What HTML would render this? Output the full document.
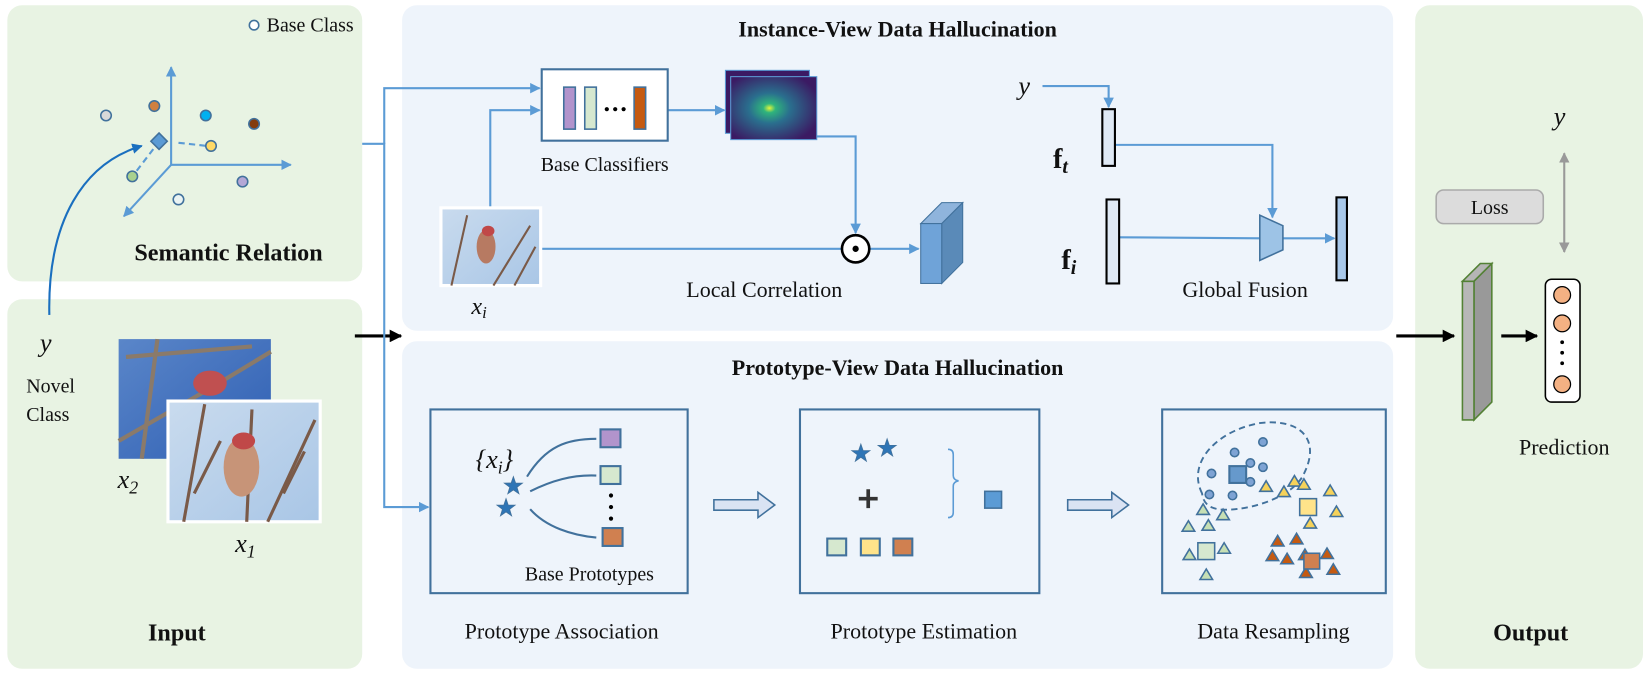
<!DOCTYPE html>
<html><head><meta charset="utf-8">
<style>html,body{margin:0;padding:0;background:#fff}svg{display:block}
text{font-family:"Liberation Serif",serif;fill:#111}</style></head>
<body>
<svg width="1643" height="674" viewBox="0 0 1565 642" preserveAspectRatio="none" xmlns="http://www.w3.org/2000/svg">
<defs>
<marker id="a" viewBox="0 0 10 10" refX="9" refY="5" markerWidth="5" markerHeight="5" orient="auto"><path d="M0,0L10,5L0,10z" fill="#5b9bd5"/></marker>
<marker id="k" viewBox="0 0 10 10" refX="9" refY="5" markerWidth="4" markerHeight="4" orient="auto"><path d="M0,0L10,5L0,10z" fill="#000"/></marker>
<marker id="g" viewBox="0 0 10 10" refX="9" refY="5" markerWidth="5" markerHeight="5" orient="auto-start-reverse"><path d="M0,0L10,5L0,10z" fill="#999"/></marker>
<marker id="d" viewBox="0 0 10 10" refX="9" refY="5" markerWidth="5" markerHeight="5" orient="auto"><path d="M0,0L10,5L0,10z" fill="#1a6fbf"/></marker>
<radialGradient id="hm" cx="0.45" cy="0.5" r="0.6"><stop offset="0" stop-color="#e4f53a"/><stop offset="0.12" stop-color="#2fb47c"/><stop offset="0.4" stop-color="#2a6f8e"/><stop offset="1" stop-color="#3b1a63"/></radialGradient>
<linearGradient id="sky" x1="0" y1="0" x2="1" y2="1"><stop offset="0" stop-color="#c9dbee"/><stop offset="1" stop-color="#a9c6e6"/></linearGradient>
<linearGradient id="sky2" x1="0" y1="0" x2="1" y2="1"><stop offset="0" stop-color="#5a86c9"/><stop offset="1" stop-color="#2f5fb3"/></linearGradient>
<polygon id="st" points="0,-9 2.1,-2.9 8.6,-2.8 3.4,1.1 5.3,7.3 0,3.6 -5.3,7.3 -3.4,1.1 -8.6,-2.8 -2.1,-2.9" fill="#2e75b6" stroke="#41719c" stroke-width="0.8"/>
</defs>
<!-- panels -->
<rect x="7" y="5" width="338" height="263" rx="14" fill="#e8f3e3"/>
<rect x="7" y="285" width="338" height="352" rx="14" fill="#e8f3e3"/>
<rect x="383" y="5" width="944" height="310" rx="14" fill="#eef4fb"/>
<rect x="383" y="325" width="944" height="312" rx="14" fill="#eef4fb"/>
<rect x="1348" y="5" width="217" height="632" rx="14" fill="#e8f3e3"/>

<!-- semantic relation -->
<circle cx="242" cy="24" r="4.5" fill="#fff" stroke="#41719c" stroke-width="1.5"/>
<text x="254" y="30" font-size="19">Base Class</text>
<g stroke="#5b9bd5" stroke-width="2" fill="none">
<line x1="163" y1="157" x2="163" y2="64" marker-end="url(#a)"/>
<line x1="163" y1="157" x2="277" y2="157" marker-end="url(#a)"/>
<line x1="163" y1="157" x2="118" y2="206" marker-end="url(#a)"/>
<line x1="170" y1="136" x2="197" y2="139" stroke-dasharray="6,4"/>
<line x1="146" y1="142" x2="130" y2="163" stroke-dasharray="6,4"/>
</g>
<g stroke="#41719c" stroke-width="1.5">
<circle cx="101" cy="110" r="5" fill="#d9d9d9"/>
<circle cx="147" cy="101" r="5" fill="#d08040"/>
<circle cx="196" cy="110" r="5" fill="#00b0f0"/>
<circle cx="242" cy="118" r="5" fill="#843c0c"/>
<circle cx="201" cy="139" r="5" fill="#ffd966"/>
<circle cx="126" cy="168" r="5" fill="#a9d18e"/>
<circle cx="231" cy="173" r="5" fill="#b4a7d6"/>
<circle cx="170" cy="190" r="5" fill="#eaf3f3"/>
<rect x="146" y="129" width="11" height="11" fill="#5b9bd5" transform="rotate(45 151.5 134.5)"/>
</g>
<path d="M47,300 C45,210 80,155 135,139" stroke="#1a6fbf" stroke-width="2" fill="none" marker-end="url(#d)"/>
<text x="128" y="248" font-size="23" font-weight="bold">Semantic Relation</text>

<!-- input -->
<text x="38" y="335" font-size="25" font-style="italic">y</text>
<text x="25" y="374" font-size="19">Novel</text>
<text x="25" y="401" font-size="19">Class</text>
<rect x="113" y="323" width="145" height="114" fill="url(#sky2)"/>
<g stroke="#8a7a6a" stroke-width="4" fill="none"><path d="M113,420 L200,370 L258,335"/><path d="M120,340 L240,330"/><path d="M150,323 L135,437"/></g>
<ellipse cx="200" cy="365" rx="16" ry="12" fill="#c05050"/>
<rect x="160" y="382" width="145" height="115" fill="url(#sky)" stroke="#fff" stroke-width="3"/>
<g stroke="#7a5a48" stroke-width="3" fill="none"><path d="M175,497 L195,385"/><path d="M185,470 L210,420"/><path d="M255,497 L300,400"/><path d="M270,470 L290,430"/><path d="M235,497 L240,390"/></g>
<ellipse cx="230" cy="445" rx="17" ry="28" fill="#c79478"/><ellipse cx="232" cy="420" rx="11" ry="8" fill="#c04848"/>
<text x="112" y="465" font-size="25" font-style="italic">x<tspan font-size="17" dy="5">2</tspan></text>
<text x="224" y="526" font-size="25" font-style="italic">x<tspan font-size="17" dy="5">1</tspan></text>
<text x="141" y="610" font-size="23" font-weight="bold">Input</text>
<line x1="338" y1="320" x2="382" y2="320" stroke="#000" stroke-width="3" marker-end="url(#k)"/>

<!-- connectors -->
<g stroke="#5b9bd5" stroke-width="2" fill="none">
<polyline points="345,137 366,137 366,483 408,483" marker-end="url(#a)"/>
<polyline points="366,137 366,84 514,84" marker-end="url(#a)"/>
<polyline points="467,198 467,105 514,105" marker-end="url(#a)"/>
<line x1="636" y1="105" x2="690" y2="105" marker-end="url(#a)"/>
<polyline points="778,130 815,130 815,222" marker-end="url(#a)"/>
<line x1="515" y1="237" x2="802" y2="237"/>
<line x1="828" y1="237" x2="875" y2="237" marker-end="url(#a)"/>
<polyline points="993,82 1056,82 1056,102" marker-end="url(#a)"/>
<polyline points="1062,138 1212,138 1212,207" marker-end="url(#a)"/>
<line x1="1066" y1="226" x2="1200" y2="227"/>
<line x1="1222" y1="227" x2="1271" y2="227" marker-end="url(#a)"/>
</g>

<!-- instance view -->
<text x="855" y="35" font-size="21" font-weight="bold" text-anchor="middle">Instance-View Data Hallucination</text>
<rect x="516" y="66" width="120" height="68" fill="#fff" stroke="#41719c" stroke-width="2"/>
<rect x="537" y="83" width="11" height="40" fill="#b294cc" stroke="#41719c" stroke-width="1.5"/>
<rect x="557" y="83" width="11" height="40" fill="#d6e8cf" stroke="#41719c" stroke-width="1.5"/>
<g fill="#000"><circle cx="578" cy="104" r="2"/><circle cx="586" cy="104" r="2"/><circle cx="594" cy="104" r="2"/></g>
<rect x="604" y="83" width="11" height="40" fill="#c55a11" stroke="#41719c" stroke-width="1.5"/>
<text x="576" y="163" font-size="19" text-anchor="middle">Base Classifiers</text>
<rect x="691" y="67" width="80" height="60" fill="#3b1a63" stroke="#5b9bd5"/>
<rect x="696" y="73" width="82" height="60" fill="url(#hm)" stroke="#5b9bd5"/>
<rect x="420" y="198" width="95" height="74" fill="url(#sky)" stroke="#fff" stroke-width="3"/>
<g stroke="#7a5a48" stroke-width="2" fill="none"><path d="M430,272 L445,205"/><path d="M470,272 L505,215"/><path d="M490,272 L510,235"/></g>
<ellipse cx="463" cy="235" rx="9" ry="16" fill="#b77a62"/><ellipse cx="465" cy="220" rx="6" ry="5" fill="#c04848"/>
<text x="449" y="299" font-size="23" font-style="italic">x<tspan font-size="16" dy="4">i</tspan></text>
<text x="728" y="283" font-size="21" text-anchor="middle">Local Correlation</text>
<circle cx="815" cy="237" r="13" fill="#fff" stroke="#000" stroke-width="2.5"/><circle cx="815" cy="237" r="3" fill="#000"/>
<polygon points="877,213 897,193 917,193 897,213" fill="#8fb4dc" stroke="#41719c"/>
<polygon points="897,213 917,193 917,250 897,270" fill="#5a8ab8" stroke="#41719c"/>
<rect x="877" y="213" width="20" height="57" fill="#6fa3d8" stroke="#41719c"/>
<text x="970" y="90" font-size="25" font-style="italic">y</text>
<rect x="1050" y="104" width="12" height="54" fill="#dfe9f5" stroke="#000" stroke-width="2"/>
<text x="1003" y="160" font-size="27" font-weight="bold">f<tspan font-size="19" font-style="italic" dy="5">t</tspan></text>
<rect x="1054" y="190" width="12" height="80" fill="#dfe9f5" stroke="#000" stroke-width="2"/>
<text x="1011" y="256" font-size="27" font-weight="bold">f<tspan font-size="19" font-style="italic" dy="5">i</tspan></text>
<polygon points="1200,205 1222,215 1222,238 1200,248" fill="#9dc3e6" stroke="#41719c" stroke-width="1.5"/>
<rect x="1273" y="188" width="10" height="79" fill="#a8c8ea" stroke="#000" stroke-width="2"/>
<text x="1186" y="283" font-size="21" text-anchor="middle">Global Fusion</text>

<!-- prototype view -->
<text x="855" y="357" font-size="21" font-weight="bold" text-anchor="middle">Prototype-View Data Hallucination</text>
<rect x="410" y="390" width="245" height="175" fill="none" stroke="#41719c" stroke-width="2"/>
<text x="453" y="446" font-size="25" font-style="italic">{x<tspan font-size="17" dy="5">i</tspan><tspan dy="-5">}</tspan></text>
<use href="#st" x="489" y="463"/><use href="#st" x="482" y="484"/>
<g stroke="#41719c" stroke-width="2" fill="none">
<path d="M502,454 C520,425 540,418 568,418"/>
<path d="M505,468 C525,458 545,452 568,453"/>
<path d="M505,485 C520,502 545,510 568,512"/>
</g>
<rect x="572" y="409" width="19" height="17" fill="#b294cc" stroke="#41719c" stroke-width="2"/>
<rect x="572" y="444" width="19" height="17" fill="#d6e8cf" stroke="#41719c" stroke-width="2"/>
<g fill="#000"><circle cx="582" cy="472" r="2"/><circle cx="582" cy="483" r="2"/><circle cx="582" cy="494" r="2"/></g>
<rect x="574" y="503" width="19" height="17" fill="#d08050" stroke="#41719c" stroke-width="2"/>
<text x="500" y="553" font-size="19">Base Prototypes</text>
<text x="535" y="608" font-size="21" text-anchor="middle">Prototype Association</text>
<polygon points="680,476 722,476 722,469 738,481 722,493 722,486 680,486" fill="#dae3f3" stroke="#41719c" stroke-width="1.5"/>

<rect x="762" y="390" width="228" height="175" fill="none" stroke="#41719c" stroke-width="2"/>
<use href="#st" x="820" y="432"/><use href="#st" x="845" y="427"/>
<path d="M827,466v18M818,475h18" stroke="#333" stroke-width="3.5"/>
<path d="M903,428 q5,0 5,5 v20 q0,4 5,5 q-5,1 -5,5 v25 q0,5 -5,5" stroke="#5b9bd5" stroke-width="1.5" fill="none"/>
<rect x="938" y="468" width="16" height="16" fill="#5b9bd5" stroke="#41719c" stroke-width="1.5"/>
<rect x="788" y="513" width="18" height="16" fill="#d6e8cf" stroke="#41719c" stroke-width="2"/>
<rect x="820" y="513" width="18" height="16" fill="#ffe38a" stroke="#41719c" stroke-width="2"/>
<rect x="851" y="513" width="18" height="16" fill="#d08050" stroke="#41719c" stroke-width="2"/>
<text x="880" y="608" font-size="21" text-anchor="middle">Prototype Estimation</text>
<polygon points="1017,476 1059,476 1059,469 1075,481 1059,493 1059,486 1017,486" fill="#dae3f3" stroke="#41719c" stroke-width="1.5"/>

<rect x="1107" y="390" width="213" height="175" fill="none" stroke="#41719c" stroke-width="2"/>
<path d="M1145,470 C1130,440 1160,410 1200,403 C1240,398 1260,420 1240,455 C1225,478 1180,488 1160,485 C1150,483 1146,478 1145,470z" fill="none" stroke="#41719c" stroke-width="1.8" stroke-dasharray="6,4"/>
<g fill="#7ea3d4" stroke="#41719c" stroke-width="1.5">
<circle cx="1176" cy="431" r="4"/><circle cx="1203" cy="421" r="4"/><circle cx="1191" cy="441" r="4"/><circle cx="1203" cy="445" r="4"/><circle cx="1154" cy="451" r="4"/><circle cx="1191" cy="459" r="4"/><circle cx="1152" cy="471" r="4"/><circle cx="1174" cy="472" r="4"/>
</g>
<rect x="1171" y="444" width="16" height="16" fill="#6699cc" stroke="#41719c" stroke-width="2"/>
<g stroke="#41719c" stroke-width="1.5">
<g fill="#f5d25a"><path d="M1200,468l6,-10l6,10z"/><path d="M1217,473l6,-10l6,10z"/><path d="M1227,463l6,-10l6,10z"/><path d="M1236,466l6,-10l6,10z"/><path d="M1261,472l6,-10l6,10z"/><path d="M1242,503l6,-10l6,10z"/><path d="M1267,492l6,-10l6,10z"/></g>
<rect x="1238" y="475" width="16" height="16" fill="#ffe38a"/>
<g fill="#c6dfb4"><path d="M1140,490l6,-10l6,10z"/><path d="M1159,495l6,-10l6,10z"/><path d="M1126,506l6,-10l6,10z"/><path d="M1145,505l6,-10l6,10z"/><path d="M1160,527l6,-10l6,10z"/><path d="M1127,533l6,-10l6,10z"/><path d="M1143,552l6,-10l6,10z"/></g>
<rect x="1141" y="517" width="16" height="16" fill="#d6e8cf"/>
<g fill="#c55a11"><path d="M1211,520l6,-10l6,10z"/><path d="M1229,518l6,-10l6,10z"/><path d="M1206,534l6,-10l6,10z"/><path d="M1220,537l6,-10l6,10z"/><path d="M1237,533l6,-10l6,10z"/><path d="M1258,532l6,-10l6,10z"/><path d="M1238,550l6,-10l6,10z"/><path d="M1264,547l6,-10l6,10z"/></g>
<rect x="1242" y="527" width="15" height="15" fill="#d08050"/>
</g>
<text x="1213" y="608" font-size="21" text-anchor="middle">Data Resampling</text>

<!-- output -->
<line x1="1330" y1="320" x2="1385" y2="320" stroke="#000" stroke-width="3" marker-end="url(#k)"/>
<polygon points="1393,268 1410,251 1421,251 1404,268" fill="#b5b5b5" stroke="#538135" stroke-width="1.5"/>
<polygon points="1404,268 1421,251 1421,383 1404,400" fill="#999" stroke="#538135" stroke-width="1.5"/>
<rect x="1393" y="268" width="11" height="132" fill="#b7b7b7" stroke="#538135" stroke-width="1.5"/>
<line x1="1430" y1="320" x2="1464" y2="320" stroke="#000" stroke-width="3" marker-end="url(#k)"/>
<rect x="1368" y="181" width="102" height="32" rx="7" fill="#dcdcdc" stroke="#aaa" stroke-width="1.5"/>
<text x="1419" y="204" font-size="19" text-anchor="middle">Loss</text>
<text x="1480" y="119" font-size="25" font-style="italic">y</text>
<line x1="1490" y1="240" x2="1490" y2="146" stroke="#999" stroke-width="2" marker-end="url(#g)" marker-start="url(#g)"/>
<rect x="1472" y="266" width="33" height="117" rx="6" fill="#fff" stroke="#000" stroke-width="1.5"/>
<g fill="#f4b183" stroke="#000" stroke-width="1.2"><circle cx="1488" cy="281" r="8"/><circle cx="1488" cy="308" r="8"/><circle cx="1488" cy="366" r="8"/></g>
<g fill="#000"><circle cx="1488" cy="326" r="1.8"/><circle cx="1488" cy="336" r="1.8"/><circle cx="1488" cy="346" r="1.8"/></g>
<text x="1490" y="433" font-size="21" text-anchor="middle">Prediction</text>
<text x="1458" y="610" font-size="23" font-weight="bold" text-anchor="middle">Output</text>
</svg>
</body></html>
